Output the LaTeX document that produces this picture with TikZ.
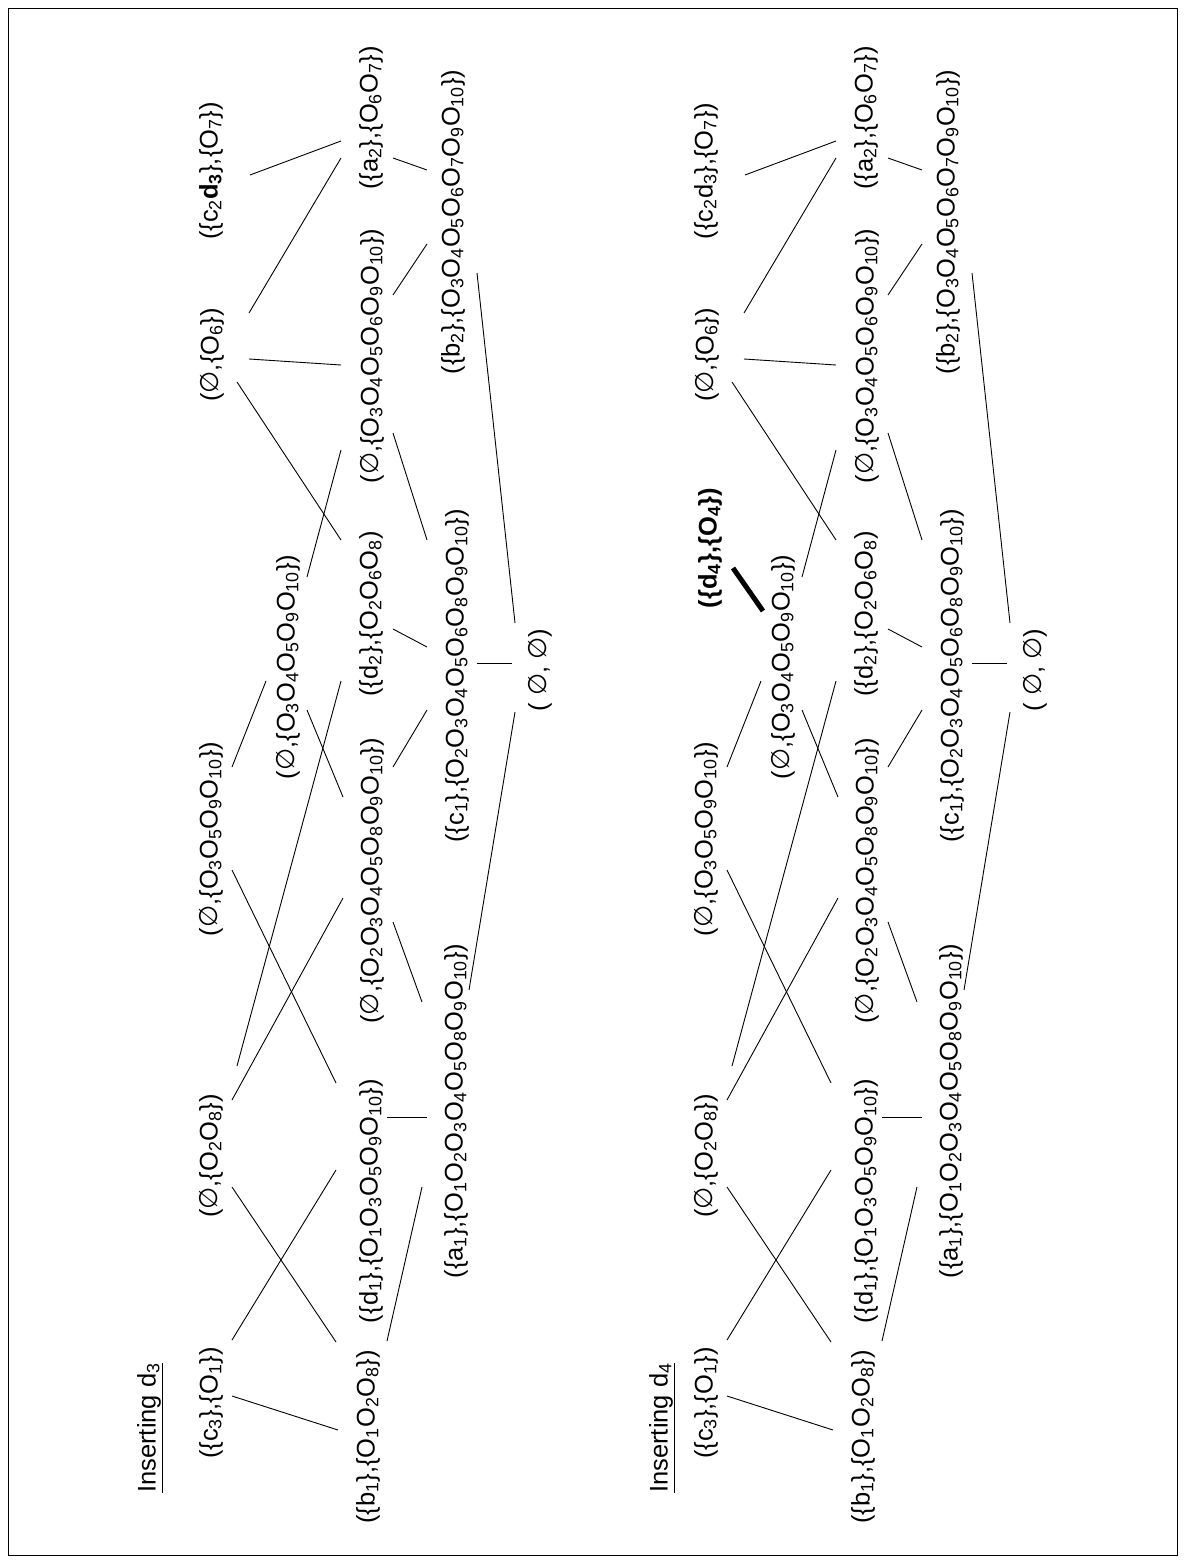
\documentclass[tikz,border=0pt]{standalone}
\usepackage{fontspec}
\setmainfont{Liberation Sans}
\newfontfamily\djv{DejaVu Sans}
\usetikzlibrary{calc}
\newcommand\sbs[1]{\textsubscript{#1}}
\newcommand\es{{\djv ∅}}
\tikzset{
  lab/.style={rotate=90,inner sep=0pt,font=\fontsize{25.5}{30}\selectfont},
  edge/.style={line width=0.9pt},
  thickedge/.style={line width=5pt}
}
\newcommand\lk[6]{\draw[edge] ($(#1)+(#2,#3)$) -- ($(#4)+(#5,#6)$);}
% #1 prefix, #2 text of (c2d3) node
\newcommand\lattice[2]{%
  % row A
  \node[lab] (#1c3)   at (211,-1403) {(\{c\sbs{3}\},\{O\sbs{1}\})};
  \node[lab] (#1e28)  at (211,-1156) {(\es,\{O\sbs{2}O\sbs{8}\})};
  \node[lab] (#1e3559) at (211,-839) {(\es,\{O\sbs{3}O\sbs{5}O\sbs{9}O\sbs{10}\})};
  \node[lab] (#1e6)   at (212,-355) {(\es,\{O\sbs{6}\})};
  \node[lab] (#1c2d3) at (211,-171) {#2};
  % row B
  \node[lab] (#1e34559) at (288,-667) {(\es,\{O\sbs{3}O\sbs{4}O\sbs{5}O\sbs{9}O\sbs{10}\})};
  % row C
  \node[lab] (#1b1) at (368,-1437) {(\{b\sbs{1}\},\{O\sbs{1}O\sbs{2}O\sbs{8}\})};
  \node[lab] (#1d1) at (371,-1201) {(\{d\sbs{1}\},\{O\sbs{1}O\sbs{3}O\sbs{5}O\sbs{9}O\sbs{10}\})};
  \node[lab] (#1e2345889) at (372,-881) {(\es,\{O\sbs{2}O\sbs{3}O\sbs{4}O\sbs{5}O\sbs{8}O\sbs{9}O\sbs{10}\})};
  \node[lab] (#1d2) at (371,-614) {(\{d\sbs{2}\},\{O\sbs{2}O\sbs{6}O\sbs{8})};
  \node[lab] (#1e345690) at (372,-356) {(\es,\{O\sbs{3}O\sbs{4}O\sbs{5}O\sbs{6}O\sbs{9}O\sbs{10}\})};
  \node[lab] (#1a2) at (371,-118) {(\{a\sbs{2}\},\{O\sbs{6}O\sbs{7}\})};
  % row D
  \node[lab] (#1a1) at (456,-1111) {(\{a\sbs{1}\},\{O\sbs{1}O\sbs{2}O\sbs{3}O\sbs{4}O\sbs{5}O\sbs{8}O\sbs{9}O\sbs{10}\})};
  \node[lab] (#1c1) at (457,-676) {(\{c\sbs{1}\},\{O\sbs{2}O\sbs{3}O\sbs{4}O\sbs{5}O\sbs{6}O\sbs{8}O\sbs{9}O\sbs{10}\})};
  \node[lab] (#1b2) at (453,-222) {(\{b\sbs{2}\},\{O\sbs{3}O\sbs{4}O\sbs{5}O\sbs{6}O\sbs{7}O\sbs{9}O\sbs{10}\})};
  % row E
  \node[lab] (#1ee) at (540,-670) {( \es, \es )};
  % connectors
  \lk{#1c2d3}{39}{-4}{#1a2}{-30}{-23}
  \lk{#1e6}{37}{42}{#1a2}{-30}{-40}
  \lk{#1e6}{37}{-4}{#1e345690}{-31}{-9}
  \lk{#1e6}{25}{-27}{#1d2}{-30}{74}
  \lk{#1a2}{22}{-40}{#1b2}{-26}{52}
  \lk{#1e345690}{21}{61}{#1b2}{-26}{-22}
  \lk{#1e345690}{21}{-77}{#1c1}{-30}{136}
  \lk{#1b2}{24}{-51}{#1ee}{-25}{47}
  \lk{#1e34559}{19}{90}{#1e345690}{-31}{-94}
  \lk{#1e3559}{21}{72}{#1e34559}{-22}{-14}
  \lk{#1e34559}{19}{-43}{#1e2345889}{-29}{84}
  \lk{#1e28}{26}{90}{#1d2}{-30}{-67}
  \lk{#1e3559}{21}{-31}{#1d1}{-35}{118}
  \lk{#1e28}{21}{56}{#1e2345889}{-29}{-17}
  \lk{#1d2}{22}{-15}{#1c1}{-30}{29}
  \lk{#1e2345889}{21}{114}{#1c1}{-30}{-34}
  \lk{#1c1}{20}{13}{#1ee}{-28}{7}
  \lk{#1e2345889}{21}{-41}{#1a1}{-34}{109}
  \lk{#1a1}{13}{121}{#1ee}{-25}{-42}
  \lk{#1e28}{21}{-31}{#1b1}{-32}{95}
  \lk{#1c3}{21}{63}{#1d1}{-35}{31}
  \lk{#1c3}{21}{7}{#1b1}{-30}{7}
  \lk{#1d1}{16}{84}{#1a1}{-29}{-6}
  \lk{#1b1}{19}{96}{#1a1}{-34}{-76}
}
\begin{document}
\begin{tikzpicture}[x=1pt,y=1pt]
  \useasboundingbox (0,0) rectangle (1185,-1563);
  \node[draw,line width=1pt,inner sep=0pt,minimum width=1169pt,minimum height=1547pt,anchor=north west] (frame) at (8,-8) {};
  % top lattice: inserting d3
  \node[lab] (t1) at (150,-1428) {\underline{Inserting d\sbs{3}}};
  \lattice{T}{(\{c\sbs{2}\textbf{d\sbs{3}}\},\{O\sbs{7}\})}
  % bottom lattice: inserting d4
  \node[lab] (t2) at (662,-1428) {\underline{Inserting d\sbs{4}}};
  \begin{scope}[xshift=495pt]
    \lattice{B}{(\{c\sbs{2}d\sbs{3}\},\{O\sbs{7}\})}
    \node[lab,font=\fontsize{25.5}{30}\selectfont\bfseries] (Bd4) at (215,-548) {(\{d\sbs{4}\},\{O\sbs{4}\})};
    \draw[thickedge] ($(Bd4)+(23,-20)$) -- ($(Be34559)+(-20,56)$);
  \end{scope}
\end{tikzpicture}
\end{document}
